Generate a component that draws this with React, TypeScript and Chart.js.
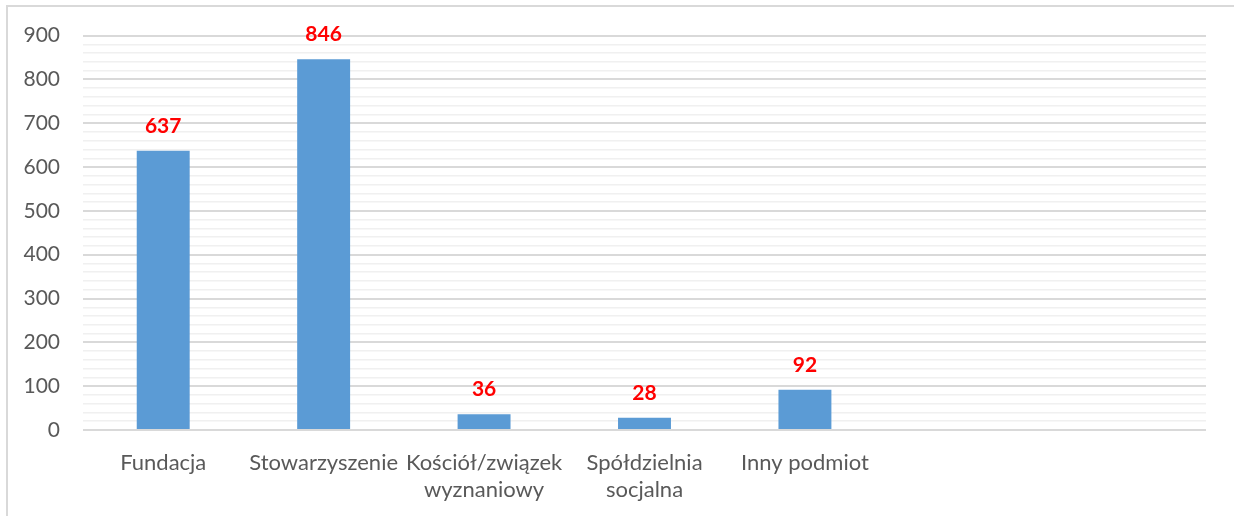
import React, { useEffect, useRef } from "react";
import { Chart, registerables } from "chart.js";

Chart.register(...registerables);

const categories: (string | string[])[] = [
  "Fundacja",
  "Stowarzyszenie",
  ["Kościół/związek", "wyznaniowy"],
  ["Spółdzielnia", "socjalna"],
  "Inny podmiot",
  "",
  "",
];
const values: (number | null)[] = [637, 846, 36, 28, 92, null, null];
const yMin = 0;
const yMax = 900;
const yStep = 20;
const majorStep = 100;

const FONT = "Lato, 'Open Sans', sans-serif";

const valueLabels = {
  id: "valueLabels",
  afterDatasetsDraw(chart: any) {
    const ctx = chart.ctx;
    const meta = chart.getDatasetMeta(0);
    ctx.save();
    ctx.font = `bold 21px ${FONT}`;
    ctx.fillStyle = "#FF0000";
    ctx.textAlign = "center";
    ctx.textBaseline = "alphabetic";
    meta.data.forEach((bar: any, i: number) => {
      const v = values[i];
      if (v === null || v === undefined) return;
      ctx.fillText(String(v), bar.x, bar.y - 18);
    });
    ctx.restore();
  },
};

export default function App() {
  const ref = useRef<HTMLCanvasElement>(null);
  useEffect(() => {
    if (!ref.current) return;
    const chart = new Chart(ref.current, {
      type: "bar",
      data: {
        labels: categories,
        datasets: [
          {
            data: values,
            backgroundColor: "#5B9BD5",
            borderWidth: 0,
            categoryPercentage: 1,
            barPercentage: 0.33,
          },
        ],
      },
      options: {
        responsive: false,
        animation: false,
        layout: { padding: { left: 0, right: 28, top: 35, bottom: 0 } },
        plugins: { legend: { display: false }, tooltip: { enabled: false } },
        scales: {
          x: {
            grid: { display: false, drawTicks: false },
            border: { display: false },
            ticks: {
              color: "#595959",
              font: { family: FONT, size: 22, lineHeight: 1.25 },
              padding: 19,
              maxRotation: 0,
              autoSkip: false,
            },
            afterFit: (s: any) => {
              s.height = 86;
            },
          },
          y: {
            min: yMin,
            max: yMax,
            border: { display: false },
            grid: {
              drawTicks: false,
              color: (c: any) =>
                c.tick && c.tick.value % majorStep === 0 ? "#d9d9d9" : "#f0f0f0",
              lineWidth: (c: any) =>
                c.tick && c.tick.value % majorStep === 0 ? 2 : 1.5,
            },
            ticks: {
              stepSize: yStep,
              autoSkip: false,
              color: "#595959",
              font: { family: FONT, size: 21 },
              padding: 23,
              callback: (v: any) => (Number(v) % majorStep === 0 ? String(v) : ""),
            },
            afterFit: (s: any) => {
              s.width = 83;
            },
          },
        },
      },
      plugins: [valueLabels],
    });
    return () => chart.destroy();
  }, []);

  return (
    <div style={{ position: "fixed", left: 0, top: 0, width: 1234, height: 516, background: "#fff", overflow: "hidden" }}>
      <div
        style={{
          position: "absolute",
          left: 6,
          top: 5,
          width: 1260,
          height: 560,
          border: "2px solid #d9d9d9",
        }}
      />
      <canvas ref={ref} width={1234} height={516} style={{ position: "absolute", left: 0, top: 0 }} />
    </div>
  );
}
